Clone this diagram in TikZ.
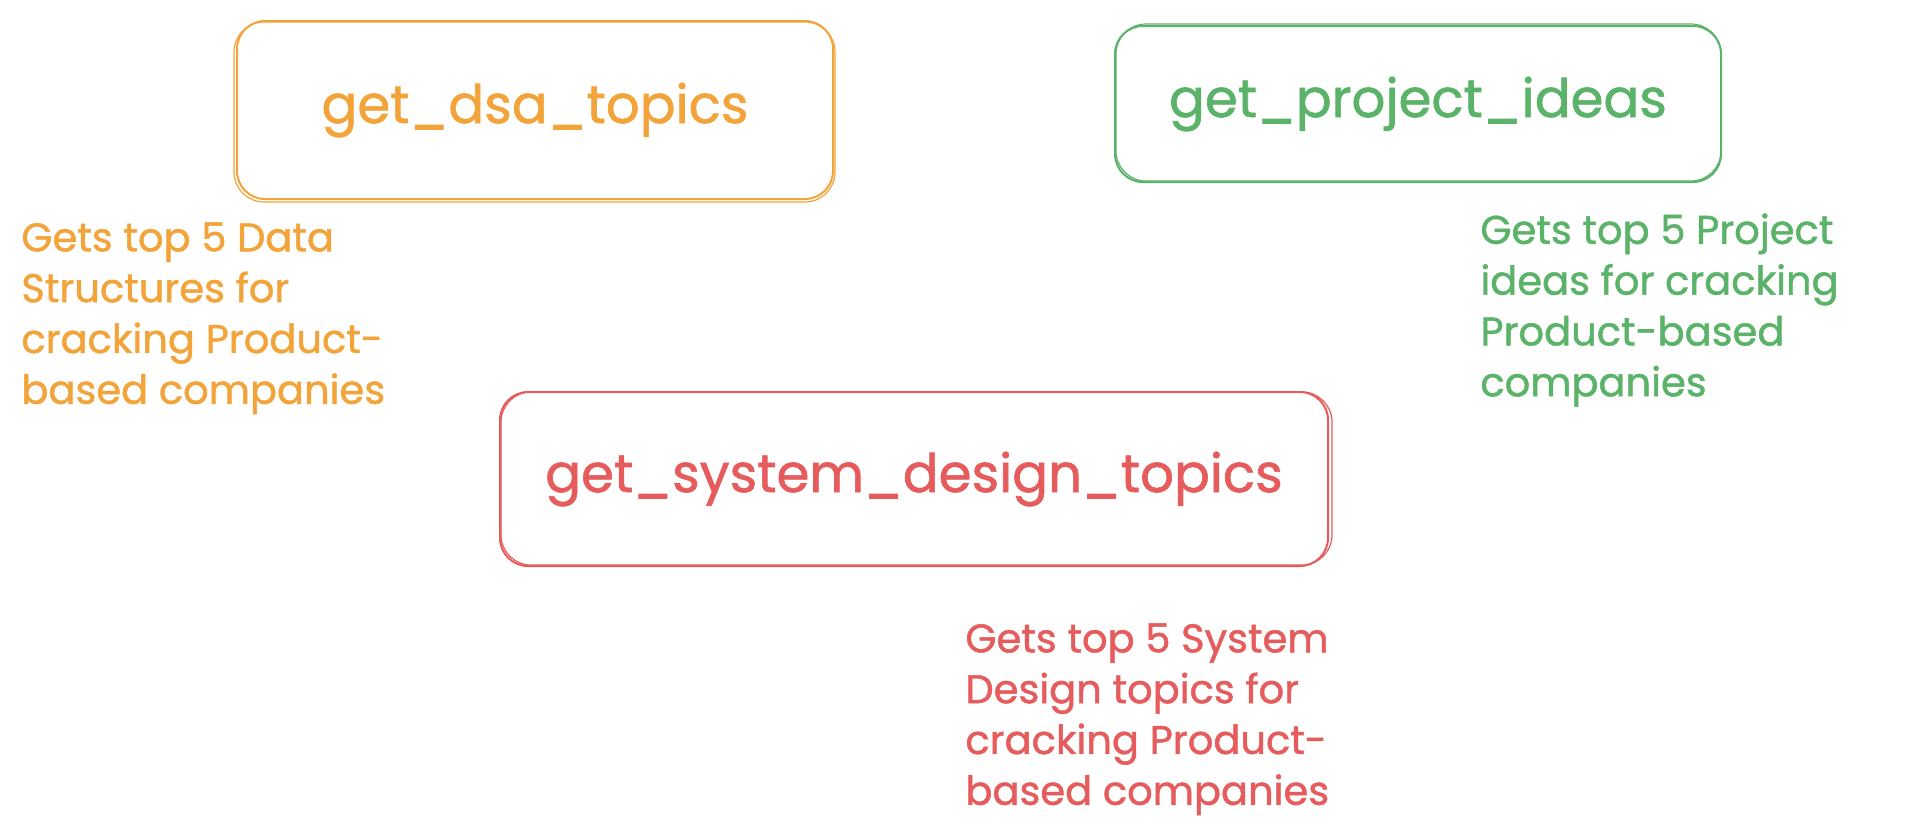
\documentclass[tikz,border=0pt]{standalone}
\usepackage{fontspec}
\setmainfont{Poppins}[FakeBold=1.2]
\definecolor{cOrange}{HTML}{F2A43A}
\definecolor{cGreen}{HTML}{5BB36A}
\definecolor{cRed}{HTML}{E65C5C}
\begin{document}
\begin{tikzpicture}[x=0.5pt,y=-0.5pt,
  fnbox/.style={draw=#1, text=#1, line width=1pt, rounded corners=14pt, inner sep=0pt,
    font=\fontsize{26.5}{31}\selectfont},
  sketch/.style={draw=#1, line width=0.6pt, rounded corners=15pt},
  note/.style={text=#1, align=left, anchor=north west, inner sep=0pt,
    font=\fontsize{20}{25.4}\selectfont}]
\useasboundingbox (0,0) rectangle (1926,831);
% boxes
\node[fnbox=cOrange, minimum width=298pt, minimum height=89pt] (dsa) at (535,110) {get\_dsa\_topics};
\node[fnbox=cGreen, minimum width=303pt, minimum height=78pt] (proj) at (1418,104) {get\_project\_ideas};
\node[fnbox=cRed, minimum width=414pt, minimum height=87pt] (sys) at (914,479) {get\_system\_design\_topics};
% sketchy second strokes
\draw[sketch=cOrange] ([shift={(-2,2)}]dsa.north west) rectangle ([shift={(1,2)}]dsa.south east);
\draw[sketch=cGreen] ([shift={(2,-1)}]proj.north west) rectangle ([shift={(-1,-2)}]proj.south east);
\draw[sketch=cRed] ([shift={(2,1)}]sys.north west) rectangle ([shift={(3,-2)}]sys.south east);
% notes
\node[note=cOrange] (dsanote) at (21,222) {Gets top 5 Data\\Structures for\\cracking Product-\\based companies};
\node[note=cGreen] (projnote) at (1480,213) {Gets top 5 Project\\ideas for cracking\\Product-based\\companies};
\node[note=cRed] (sysnote) at (965,623) {Gets top 5 System\\Design topics for\\cracking Product-\\based companies};
\end{tikzpicture}
\end{document}
